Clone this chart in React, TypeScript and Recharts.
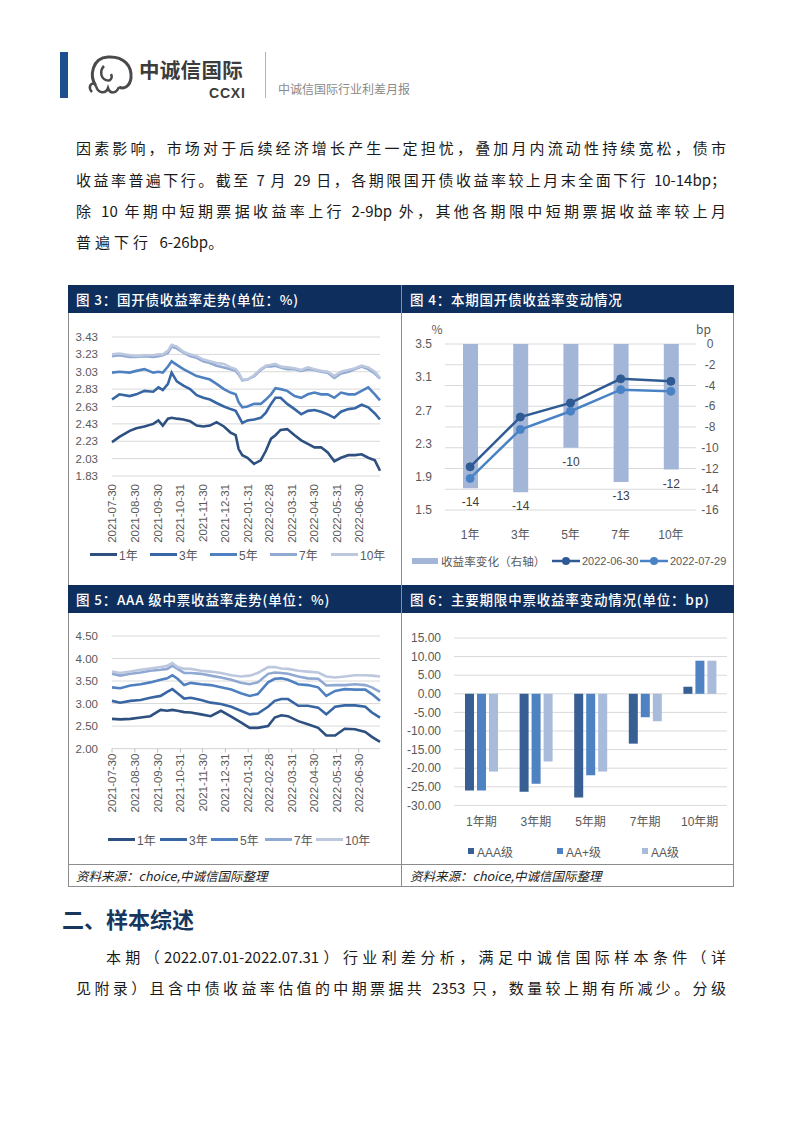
import React from 'react';
import { LineChart, Line, XAxis, YAxis, CartesianGrid, Legend, BarChart, Bar, ComposedChart, LabelList } from 'recharts';

const NUM_FONT = "'Liberation Sans', 'Noto Sans CJK SC', sans-serif";
const CJK_FONT = "'Noto Sans CJK SC', sans-serif";

// ---------------- 图3：国开债收益率走势 ----------------
const tenorNames = ['1年', '3年', '5年', '7年', '10年'];
const trendColors = ['#2e5081', '#3866a3', '#4f81c1', '#8fa9d3', '#bdc8de'];
const monthTickLabels = ['2021-07-30', '2021-08-30', '2021-09-30', '2021-10-31', '2021-11-30', '2021-12-31', '2022-01-31', '2022-02-28', '2022-03-31', '2022-04-30', '2022-05-31', '2022-06-30'];

const cdbDates = ['2021-07-30', '2021-08-09', '2021-08-23', '2021-09-01', '2021-09-12', '2021-09-24', '2021-10-01', '2021-10-07', '2021-10-14', '2021-10-19', '2021-10-26', '2021-11-04', '2021-11-13', '2021-11-22', '2021-12-01', '2021-12-10', '2021-12-19', '2021-12-29', '2022-01-07', '2022-01-14', '2022-01-18', '2022-01-23', '2022-01-30', '2022-02-08', '2022-02-17', '2022-02-24', '2022-03-03', '2022-03-09', '2022-03-16', '2022-03-25', '2022-04-04', '2022-04-13', '2022-04-22', '2022-05-01', '2022-05-10', '2022-05-19', '2022-05-28', '2022-06-06', '2022-06-16', '2022-06-25', '2022-07-04', '2022-07-13', '2022-07-22', '2022-07-29'];
const cdb1Y = [2.22, 2.28, 2.35, 2.38, 2.40, 2.43, 2.47, 2.41, 2.49, 2.50, 2.49, 2.48, 2.46, 2.41, 2.40, 2.41, 2.45, 2.40, 2.33, 2.30, 2.14, 2.07, 2.04, 1.97, 2.01, 2.12, 2.26, 2.30, 2.36, 2.37, 2.30, 2.24, 2.20, 2.16, 2.16, 2.10, 2.00, 2.04, 2.07, 2.07, 2.08, 2.04, 2.01, 1.89];
const cdb3Y = [2.71, 2.77, 2.75, 2.77, 2.81, 2.80, 2.85, 2.82, 2.89, 3.02, 2.92, 2.87, 2.83, 2.76, 2.73, 2.71, 2.67, 2.63, 2.60, 2.58, 2.52, 2.44, 2.47, 2.48, 2.50, 2.56, 2.66, 2.73, 2.73, 2.66, 2.60, 2.54, 2.58, 2.59, 2.57, 2.54, 2.50, 2.57, 2.60, 2.61, 2.65, 2.62, 2.55, 2.48];
const cdb5Y = [3.02, 3.03, 3.02, 3.04, 3.06, 3.02, 3.03, 3.02, 3.09, 3.15, 3.11, 3.06, 3.02, 2.98, 2.96, 2.94, 2.89, 2.83, 2.79, 2.77, 2.68, 2.62, 2.63, 2.66, 2.66, 2.71, 2.77, 2.84, 2.83, 2.81, 2.75, 2.73, 2.77, 2.79, 2.77, 2.77, 2.73, 2.79, 2.77, 2.77, 2.81, 2.85, 2.77, 2.70];
const cdb7Y = [3.21, 3.22, 3.20, 3.20, 3.21, 3.20, 3.21, 3.22, 3.25, 3.32, 3.30, 3.25, 3.21, 3.19, 3.15, 3.13, 3.10, 3.08, 3.06, 3.04, 3.00, 2.93, 2.94, 2.98, 3.05, 3.09, 3.09, 3.10, 3.08, 3.06, 3.06, 3.04, 3.06, 3.05, 3.03, 3.02, 2.96, 3.01, 3.03, 3.06, 3.09, 3.06, 3.01, 2.95];
const cdb10Y = [3.23, 3.24, 3.22, 3.21, 3.22, 3.22, 3.23, 3.23, 3.27, 3.34, 3.32, 3.26, 3.23, 3.21, 3.17, 3.15, 3.13, 3.12, 3.08, 3.06, 3.02, 2.94, 2.94, 2.99, 3.06, 3.10, 3.11, 3.12, 3.09, 3.08, 3.07, 3.05, 3.08, 3.06, 3.04, 3.03, 2.98, 3.03, 3.05, 3.07, 3.10, 3.08, 3.03, 2.96];
const cdbYTicks = [1.83, 2.03, 2.23, 2.43, 2.63, 2.83, 3.03, 3.23, 3.43];

// ---------------- 图5：AAA级中票收益率走势 ----------------
const mtnDates = ['2021-07-30', '2021-08-10', '2021-08-24', '2021-09-07', '2021-09-20', '2021-10-04', '2021-10-13', '2021-10-20', '2021-10-27', '2021-11-05', '2021-11-14', '2021-11-28', '2021-12-11', '2021-12-25', '2022-01-08', '2022-01-21', '2022-02-02', '2022-02-13', '2022-02-27', '2022-03-08', '2022-03-17', '2022-03-26', '2022-04-09', '2022-04-22', '2022-05-06', '2022-05-17', '2022-05-29', '2022-06-11', '2022-06-25', '2022-07-09', '2022-07-18', '2022-07-29'];
const mtn1Y = [2.66, 2.65, 2.66, 2.69, 2.72, 2.86, 2.84, 2.86, 2.84, 2.81, 2.80, 2.76, 2.72, 2.84, 2.71, 2.58, 2.46, 2.46, 2.50, 2.69, 2.74, 2.72, 2.61, 2.54, 2.46, 2.29, 2.29, 2.44, 2.43, 2.37, 2.26, 2.15];
const mtn3Y = [3.06, 3.02, 3.06, 3.08, 3.13, 3.17, 3.26, 3.32, 3.23, 3.11, 3.13, 3.08, 3.02, 2.99, 2.93, 2.84, 2.76, 2.78, 2.93, 3.06, 3.10, 3.10, 2.95, 2.95, 2.91, 2.76, 2.93, 2.96, 2.96, 2.93, 2.80, 2.69];
const mtn5Y = [3.36, 3.34, 3.40, 3.43, 3.47, 3.53, 3.56, 3.63, 3.55, 3.41, 3.46, 3.43, 3.41, 3.36, 3.31, 3.23, 3.17, 3.21, 3.47, 3.55, 3.56, 3.53, 3.43, 3.41, 3.36, 3.17, 3.28, 3.32, 3.31, 3.31, 3.21, 3.06];
const mtn7Y = [3.66, 3.62, 3.66, 3.69, 3.73, 3.75, 3.77, 3.84, 3.77, 3.68, 3.68, 3.66, 3.62, 3.58, 3.53, 3.46, 3.43, 3.47, 3.66, 3.69, 3.68, 3.66, 3.60, 3.56, 3.55, 3.40, 3.41, 3.41, 3.43, 3.41, 3.36, 3.26];
const mtn10Y = [3.71, 3.68, 3.71, 3.75, 3.78, 3.81, 3.84, 3.90, 3.81, 3.77, 3.77, 3.73, 3.71, 3.68, 3.63, 3.60, 3.62, 3.68, 3.81, 3.81, 3.78, 3.77, 3.73, 3.71, 3.69, 3.60, 3.58, 3.60, 3.63, 3.63, 3.62, 3.60];
const mtnYTicks = [2.0, 2.5, 3.0, 3.5, 4.0, 4.5];

// ---------------- 图4：本期国开债收益率变动情况 ----------------
const cdbChangeTenors = ['1年', '3年', '5年', '7年', '10年'];
const cdbChangeBp = [-13.9, -14.3, -10.0, -13.3, -12.1];
const cdbYield0630 = [2.02, 2.62, 2.79, 3.08, 3.05];
const cdbYield0729 = [1.88, 2.47, 2.69, 2.95, 2.93];
const cdbLeftTicks = [1.5, 1.9, 2.3, 2.7, 3.1, 3.5];
const cdbRightTicks = [-16, -14, -12, -10, -8, -6, -4, -2, 0];
const cdbChangeNames = ['收益率变化（右轴）', '2022-06-30', '2022-07-29'];

// ---------------- 图6：主要期限中票收益率变动情况 ----------------
const mtnTerms = ['1年期', '3年期', '5年期', '7年期', '10年期'];
const mtnChgAAA = [-26.0, -26.3, -27.9, -13.4, 1.9];
const mtnChgAAPlus = [-26.0, -24.2, -21.9, -6.3, 8.9];
const mtnChgAA = [-20.9, -18.2, -20.9, -7.4, 8.9];
const mtnChgTicks = [-30, -25, -20, -15, -10, -5, 0, 5, 10, 15];
const ratingNames = ['AAA级', 'AA+级', 'AA级'];
const ratingColors = ['#375f93', '#4f82c3', '#a8bbdb'];

// ---------------- helpers ----------------
const dayOf = (base: string, d: string) => (Date.parse(d) - Date.parse(base)) / 86400000;

function buildTrendRows(dates: string[], series: number[][]) {
  return dates.map((d, i) => {
    const row: any = { day: dayOf(dates[0], d) };
    series.forEach((s, k) => { row['s' + k] = s[i]; });
    return row;
  });
}

function LineLegend({ xs }: { xs: number[] }) {
  return (
    <div style={{ position: 'relative', width: 333, height: 16 }}>
      {tenorNames.map((n, i) => (
        <div key={n} style={{ position: 'absolute', left: xs[i], top: 0, height: 16, display: 'flex', alignItems: 'center', fontSize: 12, color: '#595959', fontFamily: NUM_FONT }}>
          <span style={{ display: 'inline-block', width: 27, height: 3, background: trendColors[i], marginRight: 2 }} />
          <span>{n}</span>
        </div>
      ))}
    </div>
  );
}

function TrendChart(props: { dates: string[]; series: number[][]; yTicks: number[]; digits: number; marginTop: number; plotHeight: number; legendTop: number; legendXs: number[]; tickSize: number; tickMargin: number; showTickLine: boolean }) {
  const { dates, series, yTicks, digits, marginTop, plotHeight, legendTop, legendXs, tickSize, tickMargin, showTickLine } = props;
  const W = 333, H = 272;
  const rows = buildTrendRows(dates, series);
  const tickDays = monthTickLabels.map((l) => dayOf(dates[0], l));
  const lastDay = dayOf(dates[0], dates[dates.length - 1]);
  const DateTick = (p: any) => {
    const { x, y, payload } = p;
    const idx = tickDays.indexOf(payload.value);
    return (
      <text x={x} y={y} transform={`rotate(-90 ${x} ${y})`} textAnchor="end" dominantBaseline="central" fontSize={11.5} fill="#595959" fontFamily={NUM_FONT}>
        {idx >= 0 ? monthTickLabels[idx] : ''}
      </text>
    );
  };
  return (
    <LineChart width={W} height={H} data={rows} margin={{ top: marginTop, right: 21, bottom: 0, left: 0 }}>
      <CartesianGrid vertical={false} stroke="#d9d9d9" />
      <XAxis dataKey="day" type="number" domain={[0, lastDay]} ticks={tickDays} interval={0} tick={DateTick} height={H - marginTop - plotHeight} axisLine={showTickLine ? { stroke: '#d9d9d9' } : false} tickLine={showTickLine ? { stroke: '#bfbfbf' } : false} tickSize={tickSize} tickMargin={tickMargin} />
      <YAxis domain={[yTicks[0], yTicks[yTicks.length - 1]]} ticks={yTicks} interval={0} width={44} axisLine={false} tickLine={false} tickMargin={8} tick={{ fontSize: 11.5, fill: '#595959', fontFamily: NUM_FONT }} tickFormatter={(v: number) => v.toFixed(digits)} />
      {series.map((_, k) => (
        <Line key={k} type="linear" dataKey={'s' + k} name={tenorNames[k]} stroke={trendColors[k]} strokeWidth={2.6} dot={false} isAnimationActive={false} />
      ))}
      <Legend verticalAlign="middle" align="center" layout="horizontal" wrapperStyle={{ left: 0, top: legendTop, width: W }} content={() => <LineLegend xs={legendXs} />} />
    </LineChart>
  );
}

function CdbChangeChart() {
  const rows = cdbChangeTenors.map((t, i) => ({ tenor: t, chg: cdbChangeBp[i], y0630: cdbYield0630[i], y0729: cdbYield0729[i] }));
  const RightTick = (p: any) => (
    <text x={p.x + 6} y={p.y} dy={4} textAnchor="middle" fontSize={12} fill="#595959" fontFamily={NUM_FONT}>{p.payload.value}</text>
  );
  const BarLabel = (p: any) => {
    const x = Number(p.x), y = Number(p.y), w = Number(p.width), h = Number(p.height);
    const bottom = Math.max(y, y + h);
    return <text x={x + w / 2} y={bottom + 14} dy={4} textAnchor="middle" fontSize={12} fill="#404040" fontFamily={NUM_FONT}>{Math.round(Number(p.value))}</text>;
  };
  const lineCols = ['', '#2f5b94', '#4a83c5'];
  const legendXs = [11, 151, 239];
  const legend = () => (
    <div style={{ position: 'relative', width: 334, height: 16, fontSize: 11, color: '#595959', fontFamily: NUM_FONT }}>
      <div style={{ position: 'absolute', left: legendXs[0], top: 0, height: 16, display: 'flex', alignItems: 'center' }}>
        <span style={{ display: 'inline-block', width: 26, height: 6, background: '#a4b6d7', marginRight: 3 }} />
        <span style={{ fontSize: 11.6 }}>{cdbChangeNames[0]}</span>
      </div>
      {[1, 2].map((k) => (
        <div key={k} style={{ position: 'absolute', left: legendXs[k], top: 0, height: 16, display: 'flex', alignItems: 'center' }}>
          <svg width={28} height={10} style={{ marginRight: 2 }}>
            <line x1={0} y1={5} x2={28} y2={5} stroke={lineCols[k]} strokeWidth={2.5} />
            <circle cx={14} cy={5} r={4} fill={lineCols[k]} />
          </svg>
          <span>{cdbChangeNames[k]}</span>
        </div>
      ))}
    </div>
  );
  return (
    <ComposedChart width={334} height={272} data={rows} margin={{ top: 31, right: 0, bottom: 0, left: 0 }}>
      <CartesianGrid vertical={false} stroke="#d9d9d9" yAxisId="right" />
      <XAxis dataKey="tenor" height={75} axisLine={false} tickLine={false} tickMargin={14} tick={{ fontSize: 12, fill: '#595959', fontFamily: NUM_FONT }} />
      <YAxis yAxisId="left" domain={[1.5, 3.5]} ticks={cdbLeftTicks} interval={0} width={44} axisLine={false} tickLine={false} tickMargin={7} tick={{ fontSize: 12, fill: '#595959', fontFamily: NUM_FONT }} tickFormatter={(v: number) => v.toFixed(1)} label={{ value: '%', position: 'top', dx: 14, offset: 10, fontSize: 12, fill: '#595959' }} />
      <YAxis yAxisId="right" orientation="right" domain={[-16, 0]} ticks={cdbRightTicks} interval={0} width={39} axisLine={false} tickLine={false} tick={RightTick} label={{ value: 'bp', position: 'top', dx: -12, offset: 10, fontSize: 12, fill: '#595959' }} />
      <Bar yAxisId="right" dataKey="chg" barSize={15} fill="#a4b6d7" isAnimationActive={false}>
        <LabelList dataKey="chg" content={BarLabel} />
      </Bar>
      <Line yAxisId="left" dataKey="y0630" stroke="#2f5b94" strokeWidth={2.5} dot={{ r: 4, fill: '#2f5b94', stroke: '#2f5b94', strokeWidth: 1 }} isAnimationActive={false} />
      <Line yAxisId="left" dataKey="y0729" stroke="#4a83c5" strokeWidth={2.5} dot={{ r: 4, fill: '#4a83c5', stroke: '#4a83c5', strokeWidth: 1 }} isAnimationActive={false} />
      <Legend verticalAlign="middle" align="center" layout="horizontal" wrapperStyle={{ left: 0, top: 240, width: 334 }} content={legend} />
    </ComposedChart>
  );
}

function MtnChangeChart() {
  const rows = mtnTerms.map((t, i) => ({ term: t, aaa: mtnChgAAA[i], aap: mtnChgAAPlus[i], aa: mtnChgAA[i] }));
  const keys = ['aaa', 'aap', 'aa'];
  const legendXs = [67, 156, 241];
  const legend = () => (
    <div style={{ position: 'relative', width: 334, height: 16, fontSize: 12, color: '#595959', fontFamily: NUM_FONT }}>
      {ratingNames.map((n, i) => (
        <div key={n} style={{ position: 'absolute', left: legendXs[i], top: 0, height: 16, display: 'flex', alignItems: 'center' }}>
          <span style={{ display: 'inline-block', width: 6, height: 6, background: ratingColors[i], marginRight: 3 }} />
          <span>{n}</span>
        </div>
      ))}
    </div>
  );
  return (
    <BarChart width={334} height={272} data={rows} margin={{ top: 25, right: 8, bottom: 0, left: 0 }} barGap={3} barCategoryGap="20%">
      <CartesianGrid vertical={false} stroke="#d9d9d9" />
      <XAxis dataKey="term" height={79.6} axisLine={false} tickLine={false} tickMargin={6} tick={{ fontSize: 12, fill: '#595959', fontFamily: NUM_FONT }} />
      <YAxis domain={[-30, 15]} ticks={mtnChgTicks} interval={0} width={53} axisLine={false} tickLine={false} tickMargin={7} tick={{ fontSize: 12, fill: '#595959', fontFamily: NUM_FONT }} tickFormatter={(v: number) => v.toFixed(2)} />
      {keys.map((k, i) => (
        <Bar key={k} dataKey={k} name={ratingNames[i]} barSize={9} fill={ratingColors[i]} isAnimationActive={false} />
      ))}
      <Legend verticalAlign="middle" align="center" layout="horizontal" wrapperStyle={{ left: 0, top: 230, width: 334 }} content={legend} />
    </BarChart>
  );
}

// ---------------- page helpers ----------------
const Abs = ({ x, y, w, h, style, children }: any) => (
  <div style={{ position: 'absolute', left: x, top: y, width: w, height: h, ...style }}>{children}</div>
);

const TextAt = ({ x, y, size, lh, style, children }: any) => {
  const lineH = lh || size * 1.4;
  return (
    <div style={{ position: 'absolute', left: x, top: y - lineH / 2, fontSize: size, lineHeight: `${lineH}px`, whiteSpace: 'nowrap', ...style }}>{children}</div>
  );
};

const JLine = ({ x, y, w, children, justify = true, indent = 0 }: any) => (
  <div style={{ position: 'absolute', left: x, top: y - 11, width: w, fontSize: 15, lineHeight: '22px', color: '#1a1a1a', textAlign: justify ? 'justify' : 'left', textAlignLast: justify ? 'justify' : 'auto', textIndent: indent, fontFamily: CJK_FONT, whiteSpace: 'nowrap' } as any}>{children}</div>
);

const TitleBar = ({ x, y, w, text }: any) => (
  <div style={{ position: 'absolute', left: x, top: y, width: w, height: 28, background: '#0e2f5e' }}>
    <div style={{ position: 'absolute', left: 8, top: 4, fontSize: 13.5, lineHeight: '20px', color: '#fff', fontFamily: CJK_FONT, fontWeight: 500, letterSpacing: 0.8, whiteSpace: 'nowrap' }}>{text}</div>
  </div>
);

export default function App() {
  return (
    <div style={{ position: 'relative', width: 802, height: 1133, background: '#fff', overflow: 'hidden', fontFamily: CJK_FONT }}>
      <style>{'body{margin:0}'}</style>

      {/* header */}
      <Abs x={60} y={52} w={8} h={46} style={{ background: '#1d4f8e' }} />
      <svg style={{ position: 'absolute', left: 86, top: 52 }} width={54} height={46}>
        <path d="M10 34 C3 24 6 6 22 5 C38 4 46 14 45 26 C44 34 38 38 33 35" stroke="#4a4a4a" strokeWidth={3} fill="none" />
        <path d="M18 14 C14 18 14 26 20 28 C24 30 27 26 25 22" stroke="#4a4a4a" strokeWidth={2.5} fill="none" />
        <path d="M10 34 C12 42 20 42 22 36 C24 42 30 42 33 35" stroke="#4a4a4a" strokeWidth={2.5} fill="none" />
        <path d="M6 40 C2 36 4 30 9 32" stroke="#4a4a4a" strokeWidth={2.5} fill="none" />
      </svg>
      <TextAt x={139} y={69} size={20.5} lh={21} style={{ fontWeight: 700, color: '#3c3c3c', letterSpacing: 0.3 }}>中诚信国际</TextAt>
      <TextAt x={209} y={93} size={14} lh={13} style={{ fontWeight: 700, color: '#3c3c3c', fontFamily: NUM_FONT, letterSpacing: 0.8 }}>CCXI</TextAt>
      <Abs x={265} y={52} w={1} h={46} style={{ background: '#a9b3c2' }} />
      <TextAt x={278} y={89} size={12} style={{ color: '#8a8a8a' }}>中诚信国际行业利差月报</TextAt>

      {/* paragraph */}
      <JLine x={76} y={148} w={650}>因素影响，市场对于后续经济增长产生一定担忧，叠加月内流动性持续宽松，债市</JLine>
      <JLine x={76} y={180} w={650}>收益率普遍下行。截至 7 月 29 日，各期限国开债收益率较上月末全面下行 10-14bp；</JLine>
      <JLine x={76} y={211} w={650}>除 10 年期中短期票据收益率上行 2-9bp 外，其他各期限中短期票据收益率较上月</JLine>
      <JLine x={76} y={242} w={650} justify={false}><span style={{ letterSpacing: 4 }}>普遍下行 </span>6-26bp。</JLine>

      {/* chart frame */}
      <Abs x={68} y={285} w={666} h={602} style={{ border: '1px solid #8c8c8c', boxSizing: 'border-box' }} />
      <Abs x={401} y={285} w={1} h={602} style={{ background: '#8c8c8c' }} />
      <Abs x={68} y={864} w={666} h={1} style={{ background: '#8c8c8c' }} />
      <TitleBar x={68} y={285} w={333} text="图 3：国开债收益率走势(单位：%)" />
      <TitleBar x={402} y={285} w={332} text="图 4：本期国开债收益率变动情况" />
      <TitleBar x={68} y={585} w={333} text="图 5：AAA 级中票收益率走势(单位：%)" />
      <TitleBar x={402} y={585} w={332} text="图 6：主要期限中票收益率变动情况(单位：bp)" />

      <Abs x={68} y={313}>
        <TrendChart dates={cdbDates} series={[cdb1Y, cdb3Y, cdb5Y, cdb7Y, cdb10Y]} yTicks={cdbYTicks} digits={2} marginTop={24} plotHeight={139} legendTop={233} legendXs={[22, 82, 142, 202, 263]} tickSize={6} tickMargin={2} showTickLine={false} />
      </Abs>
      <Abs x={401} y={313}>
        <CdbChangeChart />
      </Abs>
      <Abs x={68} y={613}>
        <TrendChart dates={mtnDates} series={[mtn1Y, mtn3Y, mtn5Y, mtn7Y, mtn10Y]} yTicks={mtnYTicks} digits={2} marginTop={23} plotHeight={112.6} legendTop={218} legendXs={[40, 92, 143, 197, 248]} tickSize={4} tickMargin={1} showTickLine={true} />
      </Abs>
      <Abs x={401} y={613}>
        <MtnChangeChart />
      </Abs>

      <TextAt x={76} y={876} size={12.5} style={{ fontStyle: 'italic', color: '#222' }}>资料来源：choice,中诚信国际整理</TextAt>
      <TextAt x={410} y={876} size={12.5} style={{ fontStyle: 'italic', color: '#222' }}>资料来源：choice,中诚信国际整理</TextAt>

      {/* section */}
      <TextAt x={62} y={918} size={22} style={{ fontWeight: 700, color: '#17375e' }}>二、样本综述</TextAt>
      <JLine x={76} y={957} w={650} indent={30}>本期（2022.07.01-2022.07.31）行业利差分析，满足中诚信国际样本条件（详</JLine>
      <JLine x={76} y={988} w={650}>见附录）且含中债收益率估值的中期票据共 2353 只，数量较上期有所减少。分级</JLine>
    </div>
  );
}
